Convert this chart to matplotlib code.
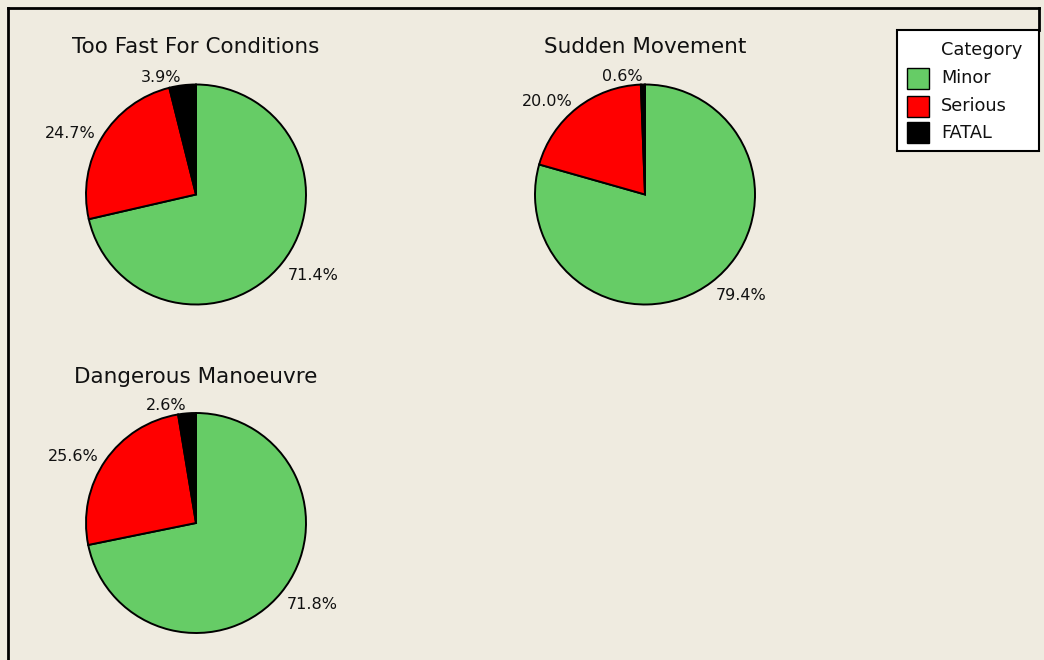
import matplotlib
matplotlib.use("Agg")
import matplotlib.pyplot as plt
from matplotlib.patches import Rectangle
from matplotlib.lines import Line2D

# ---- data ----
titles = ["Too Fast For Conditions", "Sudden Movement", "Dangerous Manoeuvre"]
categories = ["Minor", "Serious", "FATAL"]
minor = [71.4, 79.4, 71.8]
serious = [24.7, 20.0, 25.6]
fatal = [3.9, 0.6, 2.6]
colors = ["#66CC66", "#FF0000", "#000000"]

W, H = 1044, 660
BG = "#EFEBE0"
plt.rcParams['font.family'] = ['DejaVu Sans']

fig = plt.figure(figsize=(W / 100, H / 100), dpi=100, facecolor=BG)
ax = fig.add_axes([0, 0, 1, 1])
ax.set_facecolor(BG)

# pie centres / radius in pixel coordinates (y measured from top)
centers = [(196, 194.5), (645, 194.5), (196, 523)]
R = 110
title_y = [47, 47, 377]

for i in range(3):
    vals = [minor[i], serious[i], fatal[i]]
    cx, cy = centers[i]
    labels = ["%.1f%%" % v for v in vals]
    wedges, texts = ax.pie(vals, colors=colors, labels=labels, startangle=90,
                           counterclock=False, center=(cx, H - cy), radius=R,
                           frame=True, labeldistance=1.07,
                           wedgeprops=dict(edgecolor="black", linewidth=1.4),
                           textprops=dict(fontsize=11.5, color="#111111"))
    for t in texts:
        tx, ty = t.get_position()
        t.set_ha("left" if tx > cx else "right")
        if ty < H - cy:
            t.set_va("top")
    ax.text(cx, H - title_y[i], titles[i], ha="center", va="center",
            fontsize=15.5, color="#111111")

ax.set_xlim(0, W)
ax.set_ylim(0, H)
ax.set_aspect('auto')
ax.axis('off')

# figure border (left, top, right upper part)
ax.add_line(Line2D([8, 8], [0, H - 8], color="black", lw=2))
ax.add_line(Line2D([8, 1039], [H - 8, H - 8], color="black", lw=2))
ax.add_line(Line2D([1039, 1039], [H - 8, H - 30], color="black", lw=2))

# legend box
lx0, lx1, ly0, ly1 = 897, 1039, 30, 151
ax.add_patch(Rectangle((lx0, H - ly1), lx1 - lx0, ly1 - ly0, facecolor="white",
                       edgecolor="black", lw=1.5, zorder=5))
ax.text(941, H - 50, "Category", ha="left", va="center", fontsize=12.8,
        color="#111111", zorder=6)
entry_y = [78, 106, 132.5]
for c, lab, ey in zip(colors, categories, entry_y):
    ax.add_patch(Rectangle((907, H - ey - 10.5), 22, 21, facecolor=c,
                           edgecolor="black", lw=1.0, zorder=6))
    ax.text(941, H - ey, lab, ha="left", va="center", fontsize=12.8,
            color="#111111", zorder=6)

fig.savefig("out.png", dpi=100, facecolor=BG)
